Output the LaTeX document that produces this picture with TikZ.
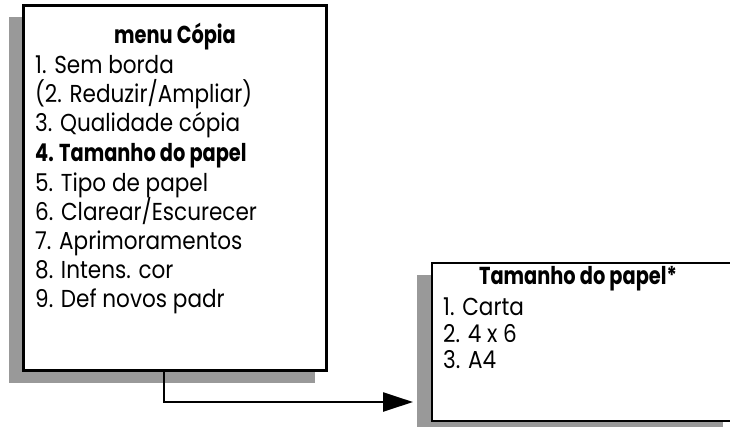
\documentclass[tikz,border=0pt]{standalone}
\usepackage{fontspec}
\setmainfont{Poppins}
\newfontfamily\regfont{Poppins}[FakeStretch=0.88]
\newfontfamily\boldfont{Poppins}[FakeStretch=0.79]
\usetikzlibrary{arrows.meta,calc}
\definecolor{shadowgray}{RGB}{153,153,153}
\tikzset{
  shadowbox/.style={fill=shadowgray, draw=none, inner sep=0pt, outer sep=0pt},
  menubox/.style={fill=white, draw=black, line width=2.6pt, inner sep=0pt, outer sep=0pt},
  item/.style={anchor=base west, inner sep=0pt, font=\fontsize{24.5}{29}\regfont},
  bolditem/.style={anchor=base west, inner sep=0pt, font=\fontsize{24.5}{29}\boldfont\bfseries},
  heading/.style={anchor=base, inner sep=0pt, font=\fontsize{24.5}{29}\boldfont\bfseries},
  conn/.style={draw=black, line width=2.4pt, -{Triangle[length=30pt,width=19pt]}}
}
\begin{document}
\begin{tikzpicture}[x=1pt,y=-1pt]
\useasboundingbox (0,0) rectangle (730,426);
\clip (0,0) rectangle (730,426);
% left menu
\node[shadowbox, minimum width=306pt, minimum height=366.6pt] (menushadow) at (162,200) {};
\node[menubox, minimum width=303pt, minimum height=364.6pt] (menu) at (175,188) {};
\node[heading] (t1) at (175,43) {menu Cópia};
\node[item] (m1) at (35,73) {1. Sem borda};
\node[item] (m2) at (35,102) {(2. Reduzir/Ampliar)};
\node[item] (m3) at (35,131) {3. Qualidade cópia};
\node[bolditem] (m4) at (35,161) {4. Tamanho do papel};
\node[item] (m5) at (35,191) {5. Tipo de papel};
\node[item] (m6) at (35,220) {6. Clarear/Escurecer};
\node[item] (m7) at (35,249) {7. Aprimoramentos};
\node[item] (m8) at (35,278) {8. Intens. cor};
\node[item] (m9) at (35,307) {9. Def novos padr};
% right menu
\node[shadowbox, minimum width=306pt, minimum height=170pt] (sizeshadow) at (570,360) {};
\node[menubox, minimum width=308pt, minimum height=158pt] (size) at (586,342) {};
\node[heading] (t2) at (578,284) {Tamanho do papel*};
\node[item] (s1) at (443,315) {1. Carta};
\node[item] (s2) at (443,342) {2. 4 x 6};
\node[item] (s3) at (443,368) {3. A4};
% connector
\coordinate (turn) at (164,402);
\draw[conn, shorten >=4pt] (menu.south -| turn) -- (turn) -- (turn -| sizeshadow.west);
\end{tikzpicture}
\end{document}
